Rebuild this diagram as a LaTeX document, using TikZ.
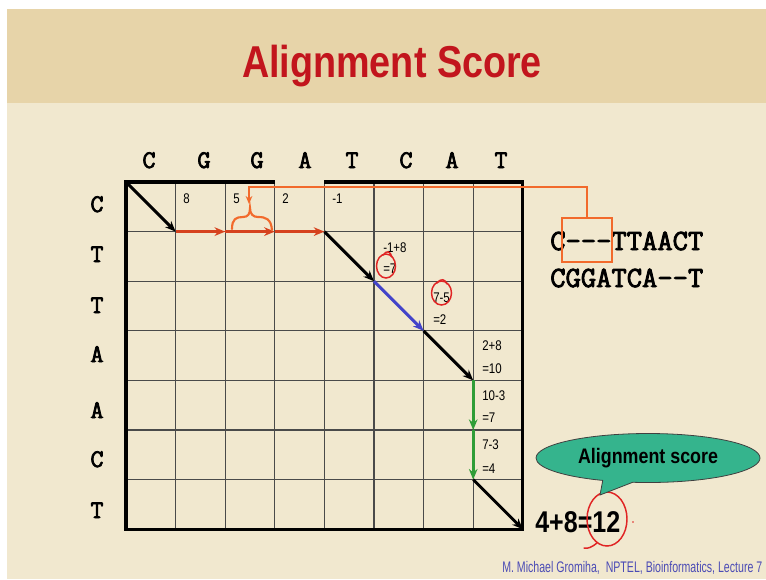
\documentclass[tikz,border=0pt]{standalone}
\usepackage{fontspec}
\usepackage{graphicx}
\setmainfont{Liberation Sans}
\newfontfamily\seqfont{Latin Modern Mono}[FakeBold=3]
\usetikzlibrary{arrows.meta,shapes.callouts}
\definecolor{bandtan}{HTML}{E7D4A9}
\definecolor{cream}{HTML}{F1E8CF}
\definecolor{titlered}{HTML}{C2151D}
\definecolor{orng}{HTML}{F26A2C}
\definecolor{redarr}{HTML}{D6421E}
\definecolor{bluearr}{HTML}{4343C9}
\definecolor{greenarr}{HTML}{2F9D37}
\definecolor{bubblegreen}{HTML}{35B48D}
\definecolor{footblue}{HTML}{4B4BB5}
\definecolor{gridgray}{HTML}{4A4A4A}
\definecolor{penred}{HTML}{E02424}
\newcommand{\fitw}[2]{\resizebox{#1}{\height}{#2}}
\newcommand{\nx}[1]{\scalebox{0.82}[1]{#1}}
\tikzset{
  gridline/.style={draw=gridgray, line width=0.9pt},
  border/.style={draw=black, line width=2.3pt, line join=miter},
  tipb/.style={-{Stealth[length=8pt,width=6.5pt]}},
  blackpath/.style={tipb, draw=black, line width=2.2pt},
  redpath/.style={tipb, draw=redarr, line width=2.8pt},
  bluepath/.style={tipb, draw=bluearr, line width=2.2pt},
  greenpath/.style={tipb, draw=greenarr, line width=2.2pt},
  seqletter/.style={anchor=base, inner sep=0, font=\seqfont\fontsize{19}{21}\selectfont},
  cellnum/.style={anchor=base west, inner sep=0, font=\fontsize{10.5}{12}\selectfont},
  alignrow/.style={anchor=base west, inner sep=0, font=\seqfont\fontsize{22}{26}\selectfont},
  orangeline/.style={draw=orng, line width=1.6pt},
  redpen/.style={draw=penred, line width=1.1pt},
}
\begin{document}
\begin{tikzpicture}[x=0.75pt,y=-0.75pt]
\useasboundingbox (0,0) rectangle (766,579);
% background
\fill[white] (0,0) rectangle (766,579);
\fill[bandtan] (7,9) rectangle (766,103);
\fill[cream] (7,103) rectangle (766,579);

% title
\node[anchor=base, inner sep=0, text=titlered] (title) at (392,77)
  {\fitw{225pt}{\bfseries\fontsize{33.5}{40}\selectfont Alignment Score}};

% grid coordinates
\foreach \i in {0,...,8}{
  \foreach \j in {0,...,7}{
    \coordinate (g\i\j) at ({126+49.6*\i},{182+49.6*\j});
  }
}
\foreach \i in {1,...,7} \draw[gridline] (g\i0) -- (g\i7);
\foreach \j in {1,...,6} \draw[gridline] (g0\j) -- (g8\j);
\draw[border] (g30) -- (g00) -- (g07) -- (g87) -- (g80) -- (g40);

% sequence letters
\foreach \x/\l [count=\k] in {149/C,204/G,257/G,305/A,352/T,406/C,452/A,501/T}
  \node[seqletter] (top\k) at (\x,168) {\l};
\foreach \y/\l [count=\k] in {212/C,262/T,313/T,362/A,418/A,467/C,518/T}
  \node[seqletter] (left\k) at (97,\y) {\l};

% cell numbers
\node[cellnum] (n8) at (183,203) {\nx{8}};
\node[cellnum] (n5) at (233,203) {\nx{5}};
\node[cellnum] (n2) at (282,203) {\nx{2}};
\node[cellnum] (nm1) at (332,203) {\nx{-1}};
\node[cellnum] (a1) at (383,252) {\nx{-1+8}};
\node[cellnum] (a2) at (383,273) {\nx{=7}};
\node[cellnum] (b1) at (433,302) {\nx{7-5}};
\node[cellnum] (b2) at (433,324) {\nx{=2}};
\node[cellnum] (c1) at (482,350) {\nx{2+8}};
\node[cellnum] (c2) at (482,373) {\nx{=10}};
\node[cellnum] (d1) at (482,400) {\nx{10-3}};
\node[cellnum] (d2) at (482,422) {\nx{=7}};
\node[cellnum] (e1) at (482,449) {\nx{7-3}};
\node[cellnum] (e2) at (482,473) {\nx{=4}};

% traceback path
\draw[blackpath] (g00) -- (g11);
\draw[redpath] (g11) -- (g21);
\draw[redpath] (g21) -- (g31);
\draw[redpath] (g31) -- (g41);
\draw[blackpath] (g41) -- (g52);
\draw[bluepath] (g52) -- (g63);
\draw[blackpath] (g63) -- (g74);
\draw[greenpath] (g74) -- (g75);
\draw[greenpath] (g75) -- (g76);
\draw[blackpath] (g76) -- (g87);

% alignment text
\node[alignrow] (row1) at (550,250) {\fitw{114.75pt}{C---TTAACT}};
\node[alignrow] (row2) at (550,287) {\fitw{114.75pt}{CGGATCA--T}};

% orange box, connector and brace
\node[orangeline, draw, minimum width=37.5pt, minimum height=33pt, inner sep=0] (sel) at (587,240) {};
\coordinate (bend) at (249,187);
\coordinate (bracetip) at (249,204);
\draw[orangeline, -{Stealth[length=6pt,width=5pt]}] (sel.north) |- (bend) -- (bracetip);
\draw[orangeline, line cap=round] (232,229) .. controls (232,219) and (236,217) .. (243,217)
  .. controls (248,217) and (250,214) .. (250,208)
  .. controls (250,214) and (253,217) .. (258,217)
  .. controls (266,217) and (271,219) .. (272,230);

% red pen annotations
\draw[redpen] (386,266) ellipse [x radius=9.5, y radius=12];
\draw[redpen, line cap=round] (383,255) .. controls (387,250) and (390,251) .. (392,257);
\draw[redpen] (441.5,293) ellipse [x radius=10, y radius=12];
\draw[redpen, line cap=round] (437,283) .. controls (441,278) and (445,279) .. (447,284);

% score and bubble
\node[anchor=base west, inner sep=0] (sum) at (535,532)
  {\fitw{63.75pt}{\bfseries\fontsize{22.5}{26}\selectfont 4+8=12}};
\draw[redpen] (607,519) ellipse [x radius=20, y radius=27];
\draw[redpen, line cap=round] (597,543) .. controls (592,547) and (588,549) .. (584,548);
\fill[penred] (633,522) circle [radius=0.9];
\node[ellipse callout, draw=black!75, line width=0.6pt, fill=bubblegreen, minimum width=168pt,
  minimum height=36.75pt, inner sep=0, callout absolute pointer={(600,495)}, callout pointer arc=16]
  (bubble) at (648,458) {\raisebox{-2.5pt}{\fitw{105pt}{\bfseries\fontsize{15.75}{18}\selectfont Alignment score}}};

% footer
\node[anchor=base west, inner sep=0, text=footblue] (foot) at (502,572)
  {\fitw{195pt}{\fontsize{11.5}{13}\selectfont M. Michael Gromiha,\ \ NPTEL, Bioinformatics, Lecture 7}};
\end{tikzpicture}
\end{document}
